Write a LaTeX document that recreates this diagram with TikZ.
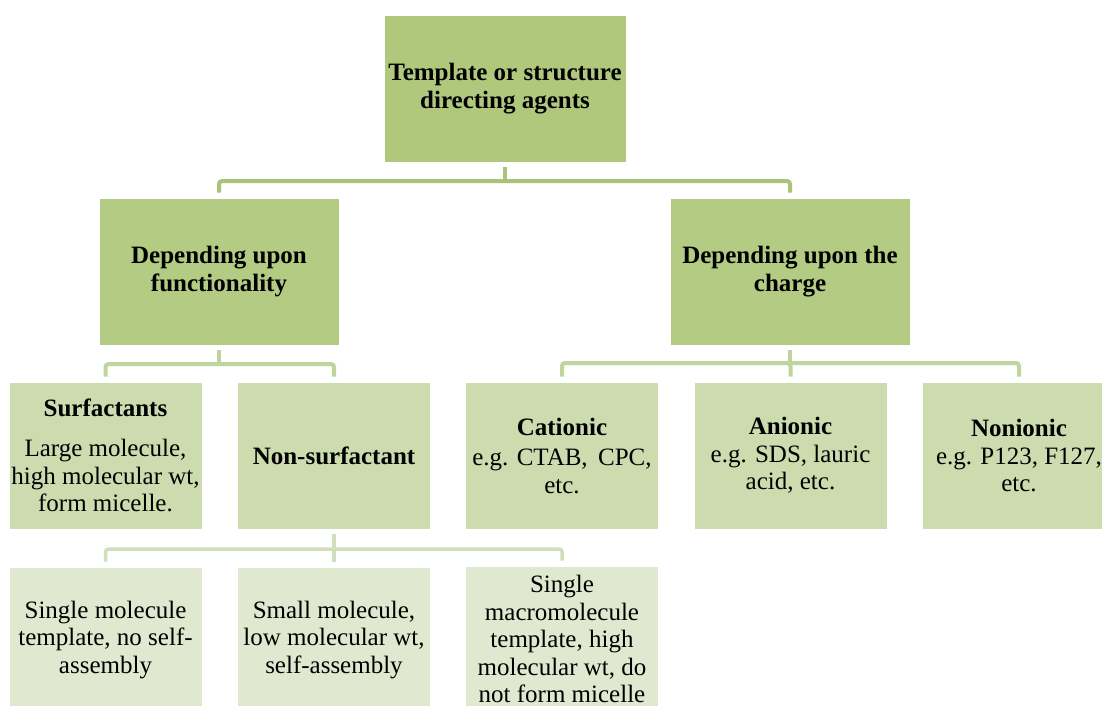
\documentclass[tikz,border=0pt]{standalone}
\usepackage{fontspec}
\setmainfont{Liberation Serif}
\definecolor{darkbox}{HTML}{B3CB82}
\definecolor{rootbox}{HTML}{B0C87C}
\definecolor{midbox}{HTML}{CCDCAF}
\definecolor{lightbox}{HTML}{E0E9CF}
\definecolor{conndark}{HTML}{A9C37B}
\definecolor{connmid}{HTML}{C0D49E}
\definecolor{connlight}{HTML}{D2DFBB}
\tikzset{
  boxbase/.style={rectangle, inner sep=0pt, align=center, draw=white, line width=0.8pt,
    font=\fontsize{25}{27.5}\selectfont, text=black},
  rootstyle/.style={boxbase, fill=rootbox, minimum width=242pt, minimum height=147pt},
  lvltwo/.style={boxbase, fill=darkbox, minimum width=240pt, minimum height=147pt},
  lvlthree/.style={boxbase, fill=midbox, minimum width=193pt, minimum height=147pt},
  lvlfour/.style={boxbase, fill=lightbox, minimum width=193pt, minimum height=146pt},
  connA/.style={draw=conndark, line width=4pt, rounded corners=3pt},
  connB/.style={draw=connmid, line width=4pt, rounded corners=3pt},
  connC/.style={draw=connlight, line width=3.5pt, rounded corners=3pt}
}
\begin{document}
\begin{tikzpicture}[x=1pt,y=-1pt]
\useasboundingbox[fill=white] (0,0) rectangle (1102,706);

% nodes
\node[rootstyle] (root) at (505,88.5) {\textbf{Template or structure}\\\textbf{directing agents}};
\node[lvltwo] (func) at (219,271.5) {\textbf{Depending upon}\\\textbf{functionality}};
\node[lvltwo] (charge) at (790,271.5) {\textbf{Depending upon the}\\\textbf{charge}};

\node[lvlthree] (surf) at (105.5,455.5) {\textbf{Surfactants}\\[13pt]Large molecule,\\high molecular wt,\\form micelle.};
\node[lvlthree] (nonsurf) at (334,455.5) {\textbf{Non-surfactant}};
\node[lvlthree] (cat) at (562,455.5) {\textbf{Cationic}\\[3pt]e.g. CTAB,\, CPC,\\etc.};
\node[lvlthree] (an) at (790.5,455.5) {\textbf{Anionic}\\e.g. SDS, lauric\\acid, etc.};
\node[lvlthree] (non) at (1019,455.5) {\textbf{Nonionic}\\e.g. P123, F127,\\etc.};

\node[lvlfour] (sa) at (105.5,640) {Single molecule\\template, no self-\\assembly};
\node[lvlfour] (sb) at (334,640) {Small molecule,\\low molecular wt,\\self-assembly};
\node[lvlfour] (sc) at (562,639) {Single\\macromolecule\\template, high\\molecular wt, do\\not form micelle};

% junctions
\coordinate (j1) at (505,181);
\coordinate (j2) at (219,364);
\coordinate (j3) at (790,363);
\coordinate (j4) at (334,549);

% connectors
\draw[connA, shorten <=5pt] (root.south) -- (j1);
\draw[connA, shorten >=5pt] (j1) -| (func.north);
\draw[connA, shorten >=5pt] (j1) -| (charge.north);

\draw[connB, shorten <=5pt] (func.south) -- (j2);
\draw[connB, shorten >=5pt] (j2) -| (surf.north);
\draw[connB, shorten >=5pt] (j2) -| (nonsurf.north);

\draw[connB, shorten <=5pt] (charge.south) -- (j3);
\draw[connB, shorten >=5pt] (j3) -| (cat.north);
\draw[connB, shorten >=5pt] (j3) -- (j3 -| an.north) -- (an.north);
\draw[connB, shorten >=5pt] (j3) -| (non.north);

\draw[connC, shorten <=5pt] (nonsurf.south) -- (j4);
\draw[connC, shorten >=5pt] (j4) -| (sa.north);
\draw[connC, shorten >=5pt] (j4) -| (sb.north);
\draw[connC, shorten >=5pt] (j4) -| (sc.north);
\end{tikzpicture}
\end{document}
